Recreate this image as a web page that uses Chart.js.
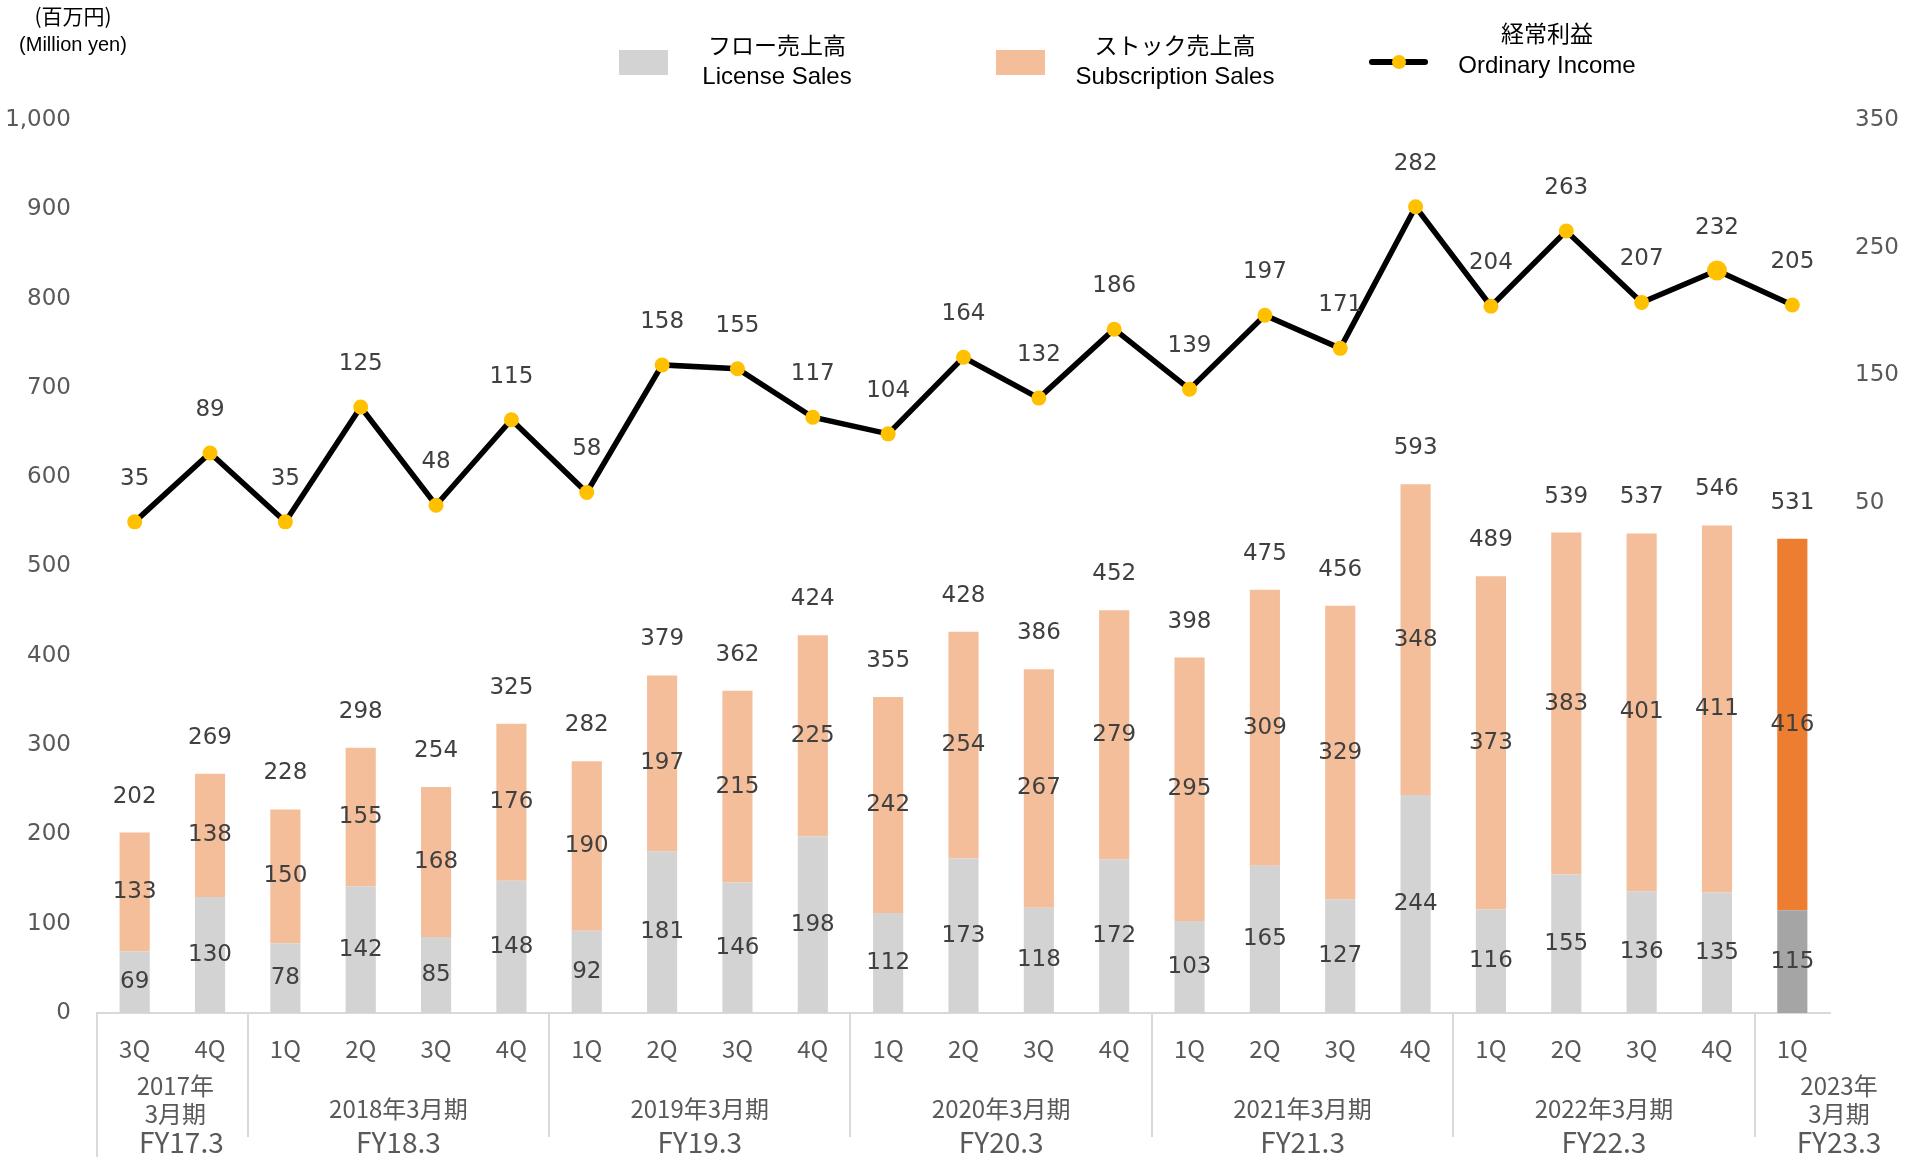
<!DOCTYPE html>
<html><head><meta charset="utf-8">
<script src="https://cdn.jsdelivr.net/npm/chart.js@4/dist/chart.umd.min.js"></script>
<style>html,body{margin:0;padding:0;background:#fff;overflow:hidden}</style>
</head><body>
<canvas id="c" width="1907" height="1157" style="display:block;width:1907px;height:1157px"></canvas>
<script>
// ---- data ----
const quarters = ['3Q','4Q','1Q','2Q','3Q','4Q','1Q','2Q','3Q','4Q','1Q','2Q','3Q','4Q','1Q','2Q','3Q','4Q','1Q','2Q','3Q','4Q','1Q'];
const fiscalGroupsJa = [['2017年','3月期'], ['2018年3月期'], ['2019年3月期'], ['2020年3月期'], ['2021年3月期'], ['2022年3月期'], ['2023年','3月期']];
const fiscalGroupsEn = ['FY17.3','FY18.3','FY19.3','FY20.3','FY21.3','FY22.3','FY23.3'];
const groupSizes = [2,4,4,4,4,4,1];
const licenseSales = [69,130,78,142,85,148,92,181,146,198,112,173,118,172,103,165,127,244,116,155,136,135,115];
const subscriptionSales = [133,138,150,155,168,176,190,197,215,225,242,254,267,279,295,309,329,348,373,383,401,411,416];
const totalSales = [202,269,228,298,254,325,282,379,362,424,355,428,386,452,398,475,456,593,489,539,537,546,531];
const ordinaryIncome = [35,89,35,125,48,115,58,158,155,117,104,164,132,186,139,197,171,282,204,263,207,232,205];
const seriesJa = ['フロー売上高','ストック売上高','経常利益'];
const seriesEn = ['License Sales','Subscription Sales','Ordinary Income'];
const unitJa = '(百万円)';
const unitEn = '(Million yen)';
const highlightIndex = 21;

const lastIdx = quarters.length - 1;
const NUM_FONT = '23px "DejaVu Sans"';
const JP = '"Noto Sans CJK JP"';

const labelsPlugin = {
  id: 'labels',
  afterDatasetsDraw(chart) {
    const ctx = chart.ctx;
    ctx.save();
    ctx.font = NUM_FONT;
    ctx.fillStyle = '#404040';
    ctx.textAlign = 'center';
    ctx.textBaseline = 'middle';
    const mL = chart.getDatasetMeta(0), mS = chart.getDatasetMeta(1), mI = chart.getDatasetMeta(2);
    mL.data.forEach((el, i) => ctx.fillText(String(licenseSales[i]), el.x, (el.y + el.base) / 2));
    mS.data.forEach((el, i) => {
      ctx.fillText(String(subscriptionSales[i]), el.x, (el.y + el.base) / 2);
      ctx.fillText(String(totalSales[i]), el.x, el.y - 36);
    });
    mI.data.forEach((pt, i) => ctx.fillText(String(ordinaryIncome[i]), pt.x, pt.y - 43));
    ctx.restore();
  },
  afterDraw(chart) {
    const ctx = chart.ctx;
    const xs = chart.scales.x;
    const area = chart.chartArea;
    ctx.save();
    // group separators
    ctx.strokeStyle = '#D9D9D9';
    ctx.lineWidth = 2;
    let start = 0;
    const px = i => xs.getPixelForValue(i);
    ctx.beginPath();
    ctx.moveTo(area.left, area.bottom); ctx.lineTo(area.left, 1157);
    const bounds = [];
    groupSizes.forEach((n, g) => {
      const end = start + n - 1;
      if (end < lastIdx) {
        const bx = Math.round((px(end) + px(end + 1)) / 2);
        bounds.push(bx);
        ctx.moveTo(bx, area.bottom); ctx.lineTo(bx, 1137);
      }
      start += n;
    });
    ctx.stroke();
    // group labels
    ctx.fillStyle = '#595959';
    ctx.textAlign = 'center';
    ctx.textBaseline = 'middle';
    start = 0;
    groupSizes.forEach((n, g) => {
      const end = start + n - 1;
      let cx = (px(start) + px(end)) / 2;
      if (g === groupSizes.length - 1) cx = (bounds[bounds.length - 1] + chart.width) / 2 + 8;
      if (g === 0) cx += 3;
      ctx.font = '24px ' + JP;
      const lines = fiscalGroupsJa[g];
      if (lines.length === 1) {
        ctx.fillText(lines[0], cx, 1109);
      } else {
        ctx.fillText(lines[0], cx, 1086);
        ctx.fillText(lines[1], cx, 1114);
      }
      ctx.font = '28px ' + JP;
      ctx.fillText(fiscalGroupsEn[g], g === 0 ? cx + 6 : cx, 1142);
      start += n;
    });
    // units
    ctx.fillStyle = '#000';
    ctx.font = '21px ' + JP;
    ctx.fillText(unitJa, 73, 16);
    ctx.font = '20px "Liberation Sans"';
    ctx.fillText(unitEn, 73, 45);
    // legend
    const legendItems = [
      {type: 'box', color: '#D3D3D3', x0: 619, tx: 777},
      {type: 'box', color: '#F4BE9A', x0: 996, tx: 1175},
      {type: 'line', x0: 1372, tx: 1547}
    ];
    legendItems.forEach((it, k) => {
      if (it.type === 'box') {
        ctx.fillStyle = it.color;
        ctx.fillRect(it.x0, 50, 49, 25);
        ctx.fillStyle = '#000';
        ctx.font = '23px ' + JP;
        ctx.fillText(seriesJa[k], it.tx, 45);
        ctx.font = '24px "Liberation Sans"';
        ctx.fillText(seriesEn[k], it.tx, 77);
      } else {
        ctx.strokeStyle = '#000';
        ctx.lineWidth = 6;
        ctx.lineCap = 'round';
        ctx.beginPath(); ctx.moveTo(it.x0, 62); ctx.lineTo(it.x0 + 53, 62); ctx.stroke();
        ctx.fillStyle = '#FFC000';
        ctx.beginPath(); ctx.arc(it.x0 + 27, 62, 7, 0, Math.PI * 2); ctx.fill();
        ctx.fillStyle = '#000';
        ctx.font = '23px ' + JP;
        ctx.fillText(seriesJa[k], it.tx, 33);
        ctx.font = '24px "Liberation Sans"';
        ctx.fillText(seriesEn[k], it.tx, 66);
      }
    });
    ctx.restore();
  }
};

new Chart(document.getElementById('c'), {
  data: {
    labels: quarters,
    datasets: [
      {
        type: 'bar', label: seriesEn[0], data: licenseSales, yAxisID: 'y', order: 1,
        backgroundColor: c => c.dataIndex === lastIdx ? '#A5A5A5' : '#D3D3D3',
        categoryPercentage: 1, barPercentage: 0.4
      },
      {
        type: 'bar', label: seriesEn[1], data: subscriptionSales, yAxisID: 'y', order: 1,
        backgroundColor: c => c.dataIndex === lastIdx ? '#ED7D31' : '#F4BE9A',
        categoryPercentage: 1, barPercentage: 0.4
      },
      {
        type: 'line', label: seriesEn[2], data: ordinaryIncome, yAxisID: 'y1', order: 0,
        borderColor: '#000', borderWidth: 5.5, tension: 0,
        pointBackgroundColor: '#FFC000', pointBorderColor: '#FFC000', pointBorderWidth: 0,
        pointRadius: c => c.dataIndex === highlightIndex ? 10 : 7.5
      }
    ]
  },
  options: {
    responsive: false,
    animation: false,
    devicePixelRatio: 1,
    layout: {padding: {top: 120, left: 0, right: 0, bottom: 0}},
    plugins: {legend: {display: false}, tooltip: {enabled: false}},
    scales: {
      x: {
        stacked: true,
        grid: {display: false, drawTicks: false},
        border: {display: true, color: '#D9D9D9', width: 2},
        ticks: {color: '#595959', font: {family: 'Noto Sans CJK JP', size: 24}, padding: 21, maxRotation: 0, autoSkip: false},
        afterFit: s => { s.height = 144; }
      },
      y: {
        position: 'left', stacked: true, min: 0, max: 1000,
        grid: {display: false, drawTicks: false},
        border: {display: false},
        ticks: {stepSize: 100, color: '#595959', font: {family: 'DejaVu Sans', size: 23}, padding: 26,
          callback: v => v.toLocaleString('en-US')},
        afterFit: s => { s.width = 97; }
      },
      y1: {
        position: 'right', min: -350, max: 350,
        grid: {display: false, drawTicks: false},
        border: {display: false},
        ticks: {stepSize: 100, color: '#595959', font: {family: 'DejaVu Sans', size: 23}, padding: 25,
          callback: v => v < 0 ? '' : String(v)},
        afterFit: s => { s.width = 77; }
      }
    }
  },
  plugins: [labelsPlugin]
});
</script>
</body></html>
